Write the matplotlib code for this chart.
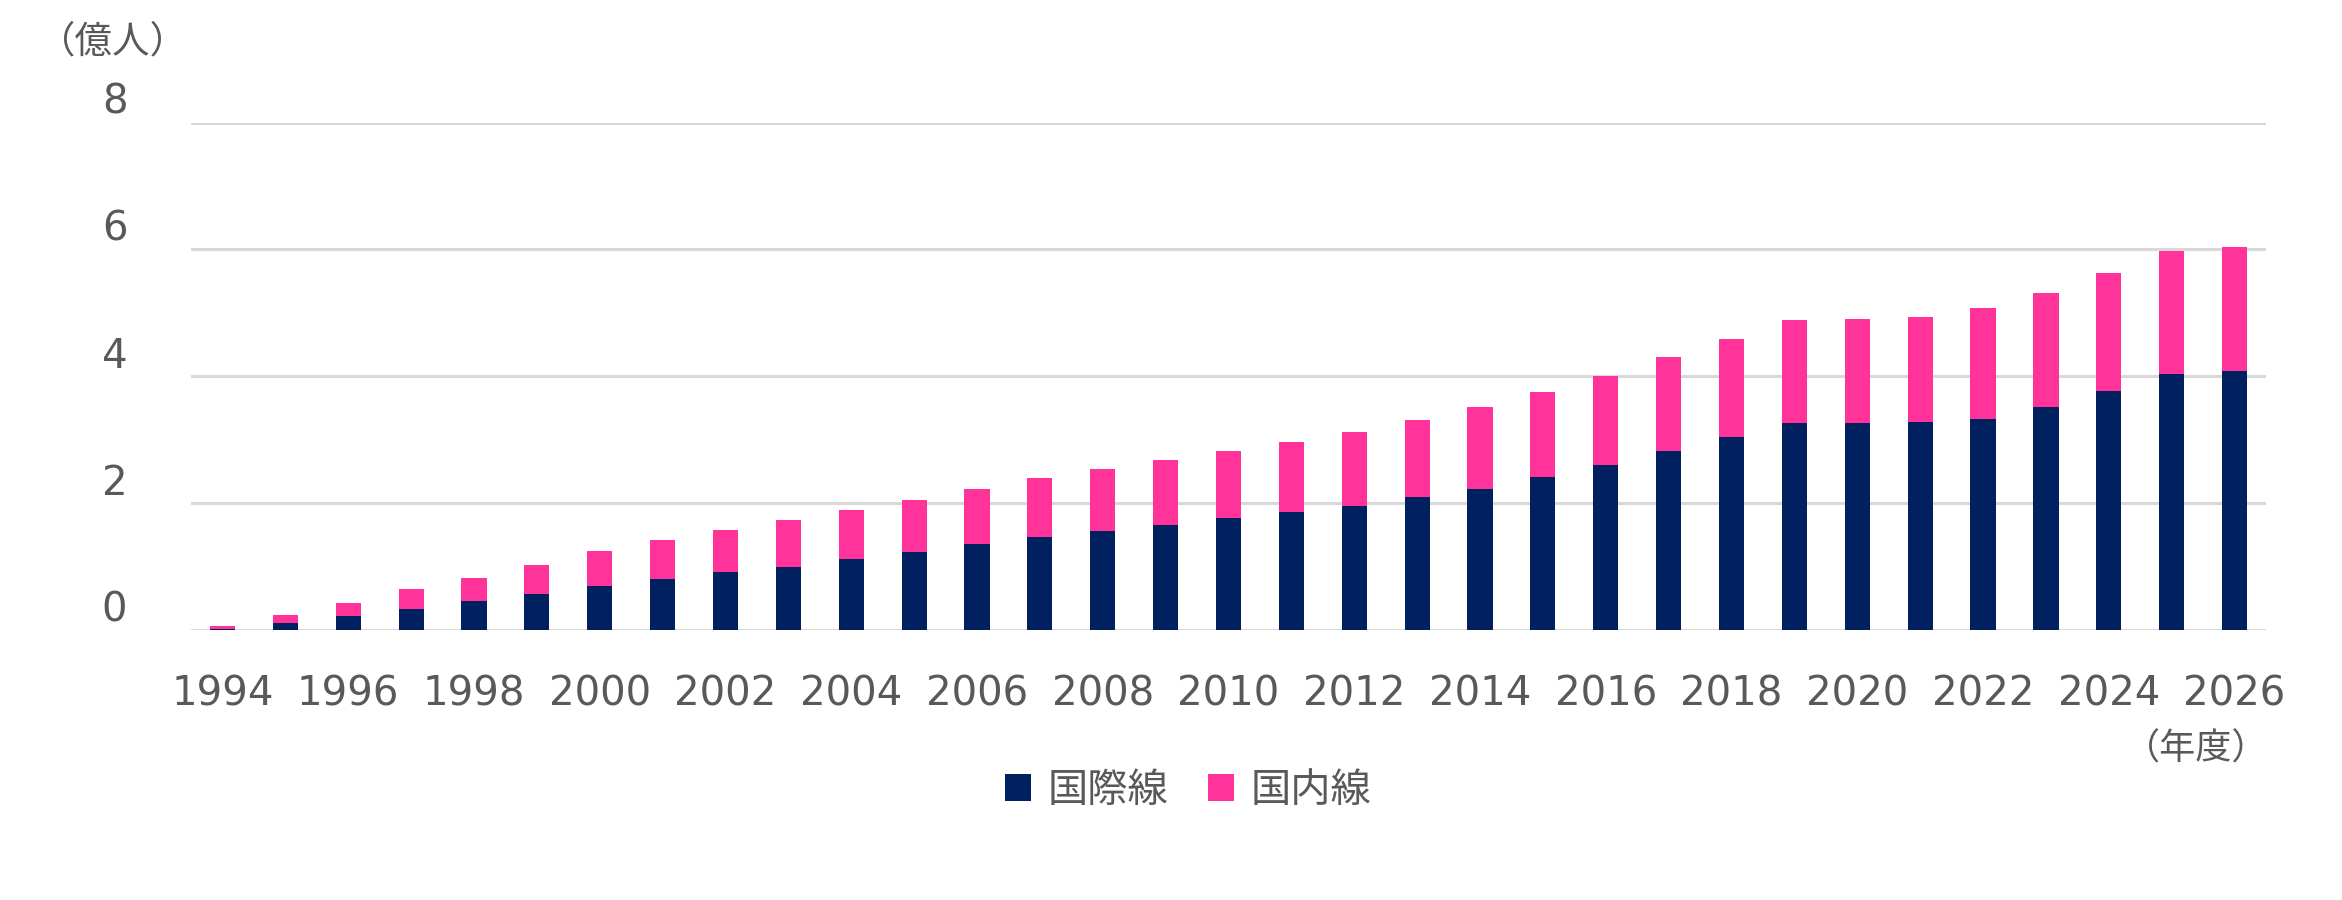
import matplotlib
matplotlib.use("Agg")
import matplotlib.pyplot as plt
from matplotlib.patches import Patch
from matplotlib.transforms import ScaledTranslation

years = list(range(1994, 2027))
international = [0.02, 0.11, 0.22, 0.33, 0.46, 0.57, 0.70, 0.80, 0.91, 1.00, 1.12,
                 1.23, 1.35, 1.46, 1.56, 1.65, 1.76, 1.86, 1.96, 2.09, 2.23, 2.41,
                 2.60, 2.82, 3.04, 3.26, 3.26, 3.28, 3.32, 3.52, 3.76, 4.04, 4.08]
domestic = [0.04, 0.13, 0.21, 0.31, 0.36, 0.46, 0.54, 0.62, 0.67, 0.74, 0.77,
            0.82, 0.87, 0.94, 0.98, 1.03, 1.06, 1.10, 1.16, 1.22, 1.29, 1.34,
            1.40, 1.49, 1.55, 1.63, 1.65, 1.66, 1.75, 1.80, 1.87, 1.94, 1.95]
yticks = [0, 2, 4, 6, 8]
series_names = ["国際線", "国内線"]
y_unit = "（億人）"
x_unit = "（年度）"

NAVY = "#002060"
PINK = "#FF3399"
GRID = "#D9D9D9"
TEXT = "#595959"
CJK = ["Noto Sans CJK JP", "DejaVu Sans"]
NUM = ["DejaVu Sans", "Noto Sans CJK JP"]

W, H = 2342, 900
fig = plt.figure(figsize=(W / 100, H / 100), dpi=100)
ax = fig.add_axes([191 / W, 1 - 630 / H, 2075 / W, (630 - 122.5) / H])

x = list(range(len(years)))
ax.bar(x, international, width=0.4, color=NAVY, zorder=3)
ax.bar(x, domestic, width=0.4, bottom=international, color=PINK, zorder=3)

ax.set_xlim(-0.5, len(years) - 0.5)
ax.set_ylim(0, 8)
for s in ax.spines.values():
    s.set_visible(False)
ax.set_yticks(yticks)
ax.yaxis.grid(True, color=GRID, linewidth=2.2, zorder=0)
ax.set_axisbelow(True)
ax.tick_params(axis="both", length=0)

ax.set_yticklabels([str(v) for v in yticks], fontsize=29, color=TEXT, family=NUM)
ax.tick_params(axis="y", pad=55)
for lab in ax.get_yticklabels():
    lab.set_horizontalalignment("center")
    lab.set_transform(lab.get_transform() + ScaledTranslation(0, 0.24, fig.dpi_scale_trans))

xt = [i for i, yv in enumerate(years) if yv % 2 == 0]
ax.set_xticks(xt)
ax.set_xticklabels([str(years[i]) for i in xt], fontsize=29, color=TEXT, family=NUM)
ax.tick_params(axis="x", pad=32)

fig.text(113 / W, 1 - 42 / H, y_unit, ha="center", va="center", fontsize=27,
         color=TEXT, family=CJK)
fig.text(2196 / W, 1 - 750 / H, x_unit, ha="center", va="center", fontsize=26,
         color=TEXT, family=CJK)

handles = [Patch(facecolor=NAVY), Patch(facecolor=PINK)]
leg = fig.legend(handles, series_names, loc="center", bbox_to_anchor=(1188 / W, 1 - 790 / H),
                 ncol=2, frameon=False, handlelength=0.65, handleheight=0.65,
                 handletextpad=0.4, columnspacing=1.0, borderpad=0, borderaxespad=0,
                 prop={"family": CJK, "size": 29})
for t in leg.get_texts():
    t.set_color(TEXT)

fig.savefig("out.png", dpi=100)
